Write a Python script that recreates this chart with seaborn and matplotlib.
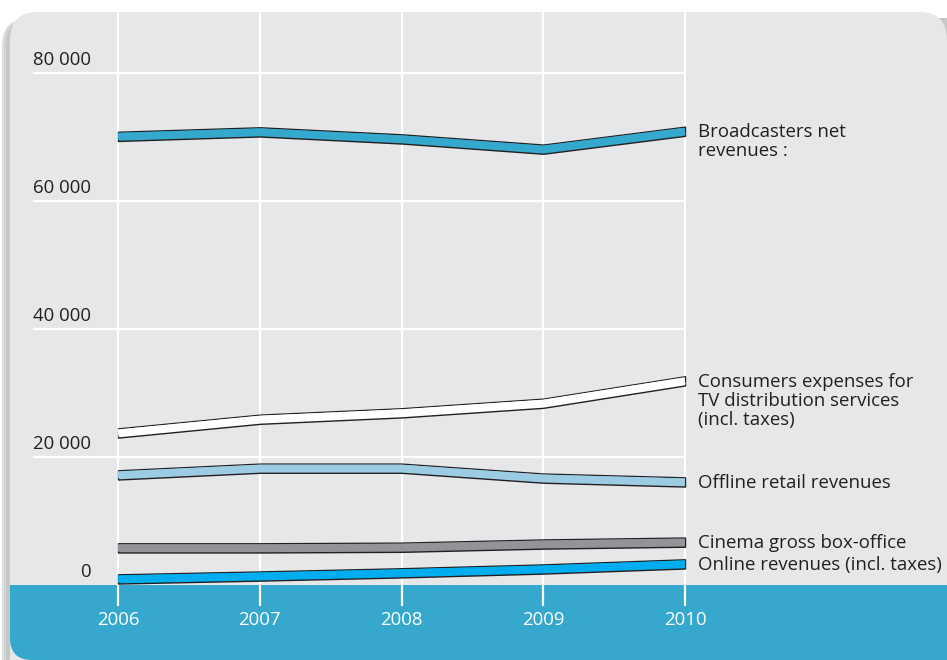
import matplotlib
matplotlib.use("Agg")
import matplotlib.pyplot as plt
from matplotlib.patches import FancyBboxPatch, Rectangle
from matplotlib.transforms import offset_copy
import numpy as np
import pandas as pd
import seaborn as sns

# ---------------- data ----------------
years = [2006, 2007, 2008, 2009, 2010]
broadcasters = [70100, 70800, 69700, 68100, 70900]
consumers_tv = [23750, 25900, 26900, 28400, 31900]
offline_retail = [17200, 18250, 18250, 16700, 16100]
cinema = [5800, 5800, 5900, 6400, 6700]
online = [950, 1400, 1900, 2500, 3300]

series_names = [
    "Broadcasters net\nrevenues :",
    "Consumers expenses for\nTV distribution services\n(incl. taxes)",
    "Offline retail revenues",
    "Cinema gross box-office",
    "Online revenues (incl. taxes)",
]
series_values = [broadcasters, consumers_tv, offline_retail, cinema, online]
series_colors = ["#35A8CE", "#FFFFFF", "#9BCCE4", "#929497", "#00AEEF"]

y_ticks = [0, 20000, 40000, 60000, 80000]
y_tick_labels = ["0", "20 000", "40 000", "60 000", "80 000"]
x_tick_labels = ["2006", "2007", "2008", "2009", "2010"]

# ---------------- figure ----------------
W, H = 947, 660
DPI = 100
FS = 13.4
TXT = "#231F20"
sns.set_theme(style="white")
plt.rcParams["font.family"] = ["Open Sans", "DejaVu Sans"]

fig = plt.figure(figsize=(W / DPI, H / DPI), dpi=DPI)
fig.patch.set_facecolor("white")

# background in pixel coordinates
bg = fig.add_axes([0, 0, 1, 1], zorder=0)
bg.set_xlim(0, W)
bg.set_ylim(H, 0)
bg.axis("off")

panel_grey = "#E6E7E9"
band_blue = "#36A7CD"

for dx, col in [(-8, "#DCDDDF"), (-6, "#D0D1D3"), (-4, "#C6C7C9")]:
    bg.add_patch(FancyBboxPatch((10 + dx, 18), 1000, 700,
                                boxstyle="round,pad=0,rounding_size=28",
                                fc=col, ec="none"))
bg.add_patch(FancyBboxPatch((10, 12), 937, 700,
                            boxstyle="round,pad=0,rounding_size=28",
                            fc=panel_grey, ec="none"))
# blue band with rounded bottom-left corner
bg.add_patch(FancyBboxPatch((10, 585), 1000, 75,
                            boxstyle="round,pad=0,rounding_size=22",
                            fc=band_blue, ec="none"))
bg.add_patch(Rectangle((10, 585), 1000, 40, fc=band_blue, ec="none"))

# data axes mapped so that 2006 -> x=118px, 2010 -> x=685px, 0 -> y=585px
px_per_year = (685 - 118) / 4.0
units_per_px = 20000 / 128.0
ax = fig.add_axes([0, 0, 1, 1], zorder=1)
ax.patch.set_alpha(0)
ax.set_xlim(years[0] - 118 / px_per_year, years[-1] + (W - 685) / px_per_year)
ax.set_ylim(-(H - 585) * units_per_px, 585 * units_per_px)
ax.axis("off")

# gridlines
grid_left = years[0] - (118 - 33) / px_per_year
ax.hlines([t for t in y_ticks if t > 0], grid_left, years[-1],
          colors="white", linewidth=1.6, zorder=1)
ax.vlines(years, -21 * units_per_px, (585 - 12) * units_per_px,
          colors="white", linewidth=1.6, zorder=1)

# ribbons: outlined bands of constant thickness around each series
half = 4.6 * units_per_px
for vals, col in zip(series_values, series_colors):
    v = np.asarray(vals, dtype=float)
    ax.fill_between(years, v - half, v + half, facecolor=col,
                    edgecolor=TXT, linewidth=1.0, zorder=3)

# series lines (drawn by seaborn through the same scales)
df = pd.DataFrame({
    "year": np.tile(years, len(series_names)),
    "value": np.concatenate(series_values),
    "series": np.repeat(series_names, len(years)),
})
palette = dict(zip(series_names, series_colors))
sns.lineplot(data=df, x="year", y="value", hue="series", palette=palette,
             hue_order=series_names, linewidth=5.2, legend=False, ax=ax,
             zorder=4)
for line in ax.get_lines():
    line.set_solid_capstyle("butt")
    line.set_solid_joinstyle("miter")

# y tick labels (above gridlines)
ytrans = offset_copy(ax.transData, fig=fig, x=0, y=4, units="dots")
for t, lab in zip(y_ticks, y_tick_labels):
    ax.text(years[0] - (118 - 91) / px_per_year, t, lab, transform=ytrans,
            ha="right", va="bottom", fontsize=FS, color=TXT)

# x tick labels in band
for yr, lab in zip(years, x_tick_labels):
    ax.text(yr, -35 * units_per_px, lab, ha="center", va="center",
            fontsize=FS, color="white")

# series labels at right (first line centred on the last point)
ltrans = offset_copy(ax.transData, fig=fig, x=13, y=8, units="dots")
for name, vals in zip(series_names, series_values):
    ax.text(years[-1], vals[-1], name, transform=ltrans, ha="left",
            va="top", fontsize=FS, color=TXT, linespacing=1.06)

fig.savefig("out.png", dpi=DPI)
